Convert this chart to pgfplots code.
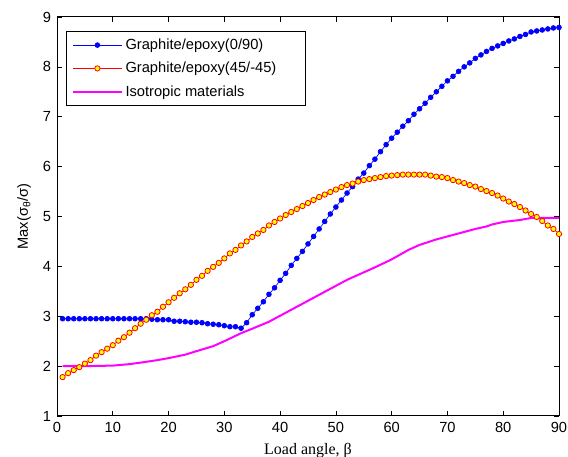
\documentclass[border=0pt]{standalone}
\usepackage{fontspec}
\setmainfont{Liberation Sans}
\newfontfamily\seriffont{Liberation Serif}
\usepackage{pgfplots}
\pgfplotsset{compat=1.18}
\definecolor{mblue}{rgb}{0,0,1}
\definecolor{mred}{rgb}{1,0,0}
\definecolor{myellow}{rgb}{1,1,0}
\definecolor{mmagenta}{rgb}{1,0,1}

% Graphite/epoxy (0/90)
\pgfplotstableread{
x y
1 2.95
2 2.95
3 2.95
4 2.95
5 2.95
6 2.95
7 2.95
8 2.95
9 2.95
10 2.95
11 2.95
12 2.95
13 2.95
14 2.95
15 2.95
16 2.95
17 2.94
18 2.93
19 2.93
20 2.93
21 2.90
22 2.90
23 2.89
24 2.88
25 2.88
26 2.87
27 2.85
28 2.84
29 2.83
30 2.81
31 2.79
32 2.79
33 2.76
34 2.87
35 3.03
36 3.16
37 3.29
38 3.44
39 3.57
40 3.72
41 3.86
42 4.02
43 4.16
44 4.30
45 4.45
46 4.60
47 4.75
48 4.90
49 5.05
50 5.19
51 5.33
52 5.47
53 5.60
54 5.75
55 5.87
56 6.02
57 6.15
58 6.30
59 6.44
60 6.57
61 6.69
62 6.81
63 6.92
64 7.05
65 7.16
66 7.27
67 7.39
68 7.50
69 7.61
70 7.72
71 7.81
72 7.91
73 8.00
74 8.08
75 8.17
76 8.24
77 8.31
78 8.37
79 8.42
80 8.47
81 8.52
82 8.56
83 8.61
84 8.65
85 8.70
86 8.72
87 8.74
88 8.76
89 8.78
90 8.79
}\tblA

% Graphite/epoxy (45/-45)
\pgfplotstableread{
x y
1 1.78
2 1.86
3 1.92
4 1.98
5 2.05
6 2.12
7 2.21
8 2.28
9 2.35
10 2.42
11 2.51
12 2.58
13 2.67
14 2.76
15 2.85
16 2.93
17 3.02
18 3.09
19 3.19
20 3.28
21 3.37
22 3.46
23 3.54
24 3.63
25 3.73
26 3.81
27 3.91
28 3.99
29 4.07
30 4.16
31 4.26
32 4.33
33 4.42
34 4.50
35 4.59
36 4.66
37 4.73
38 4.82
39 4.89
40 4.96
41 5.03
42 5.09
43 5.15
44 5.21
45 5.27
46 5.33
47 5.39
48 5.44
49 5.49
50 5.54
51 5.59
52 5.63
53 5.66
54 5.70
55 5.73
56 5.75
57 5.77
58 5.79
59 5.81
60 5.82
61 5.83
62 5.84
63 5.84
64 5.84
65 5.84
66 5.84
67 5.82
68 5.80
69 5.79
70 5.77
71 5.73
72 5.70
73 5.67
74 5.63
75 5.60
76 5.55
77 5.51
78 5.47
79 5.42
80 5.36
81 5.30
82 5.25
83 5.19
84 5.12
85 5.05
86 4.99
87 4.91
88 4.82
89 4.75
90 4.65
}\tblB

% Isotropic materials
\pgfplotstableread{
x y
1 2.00
5 2.00
10 2.01
13 2.04
15 2.07
18 2.12
20 2.16
23 2.23
25 2.30
28 2.40
30 2.50
33 2.66
35 2.75
38 2.89
40 3.01
42 3.13
45 3.31
47 3.43
50 3.61
52 3.73
55 3.88
57 3.98
60 4.14
63 4.33
65 4.43
68 4.54
70 4.60
72 4.66
75 4.75
77 4.80
78 4.84
80 4.89
83 4.93
85 4.97
88 4.97
90 4.97
}\tblC

\begin{document}
\begin{tikzpicture}
\begin{axis}[
    name=main,
    scale only axis,
    width=376.5pt, height=299.25pt,
    xmin=0, xmax=90, ymin=1, ymax=9,
    xtick={0,10,...,90}, ytick={1,2,...,9},
    tick align=inside,
    major tick length=3.75pt,
    tick style={black, line width=0.5pt},
    axis line style={line width=0.75pt},
    /pgf/number format/assume math mode=true,
    tick label style={font=\fontsize{11}{13}\selectfont},
    xticklabel style={yshift=-1pt},
    yticklabel style={xshift=-1pt},
    xlabel={\seriffont Load angle, β},
    xlabel style={font=\fontsize{12}{14}\selectfont, yshift=-1pt},
    ylabel={Max(σ\textsubscript{θ}/σ)},
    ylabel style={font=\fontsize{11}{13}\selectfont, yshift=2pt},
    legend style={at={(0.018,0.965)}, anchor=north west, draw=black,
        line width=0.75pt, fill=white, font=\fontsize{11}{13}\selectfont,
        row sep=4pt, inner xsep=4pt, inner ysep=3.5pt},
    legend cell align=left,
    legend image code/.code={
        \draw[mark repeat=2, mark phase=2, #1]
        plot coordinates {(0pt,0pt) (18.4pt,0pt) (36.75pt,0pt)};},
]
\addplot[mblue, line width=0.5pt, mark=*, mark size=1.8pt,
    mark options={draw=mblue, fill=mblue, solid}] table[x=x, y=y] {\tblA};
\addlegendentry{Graphite/epoxy(0/90)}
\addplot[mred, line width=0.5pt, mark=*, mark size=2pt,
    mark options={draw=mred, fill=myellow, line width=0.6pt, solid}] table[x=x, y=y] {\tblB};
\addlegendentry{Graphite/epoxy(45/-45)\hspace*{16pt}}
\addplot[mmagenta, line width=1.5pt] table[x=x, y=y] {\tblC};
\addlegendentry{Isotropic materials}
\end{axis}
\pgfresetboundingbox
\path[use as bounding box] ([xshift=-42.75pt, yshift=-30.75pt]main.south west)
    rectangle ([xshift=6.75pt, yshift=12.75pt]main.north east);
\end{tikzpicture}
\end{document}
